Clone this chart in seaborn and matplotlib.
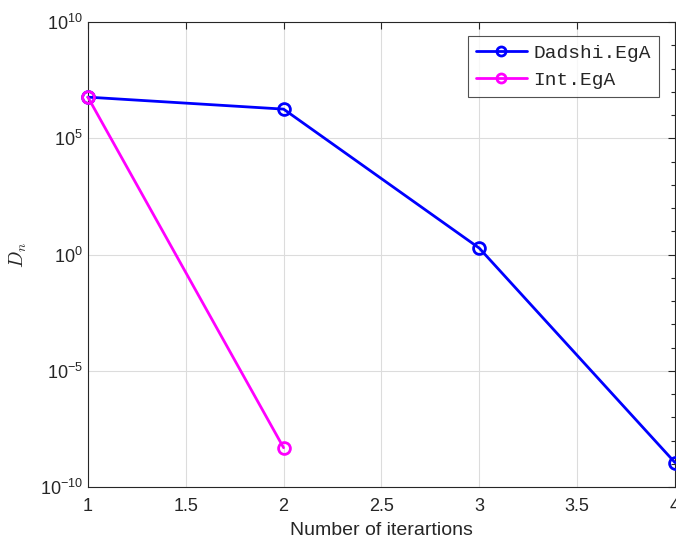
import numpy as np
import pandas as pd
import matplotlib
matplotlib.use("Agg")
import matplotlib.pyplot as plt
import matplotlib.ticker as mticker
import seaborn as sns

# Data
iter_dadshi = [1, 2, 3, 4]
vals_dadshi = [5.9e6, 1.8e6, 1.9, 1.15e-9]
iter_int = [1, 2]
vals_int = [5.9e6, 5.0e-9]
series_names = ["Dadshi.EgA", "Int.EgA"]
series_colors = ["#0000ff", "#ff00ff"]
xticks = [1, 1.5, 2, 2.5, 3, 3.5, 4]
xlabel = "Number of iterartions"
ylabel = r"$D_n$"

df = pd.DataFrame({
    "x": iter_dadshi + iter_int,
    "y": vals_dadshi + vals_int,
    "series": [series_names[0]] * len(iter_dadshi) + [series_names[1]] * len(iter_int),
})

sns.set_style("white")
plt.rcParams["font.family"] = ["Liberation Sans", "DejaVu Sans"]
plt.rcParams["mathtext.fontset"] = "cm"

fig = plt.figure(figsize=(6.76, 5.45), dpi=100)
ax = fig.add_axes([0.130, 0.106, 0.8685, 0.8536])

sns.lineplot(data=df, x="x", y="y", hue="series", palette=series_colors,
             hue_order=series_names, marker="o", markersize=8.5,
             markerfacecolor="none", markeredgewidth=2.0, linewidth=2.0,
             ax=ax, legend=False, clip_on=False, zorder=5)
for line, c in zip(ax.get_lines(), series_colors):
    line.set_markeredgecolor(c)
    line.set_markerfacecolor("none")

ax.set_yscale("log")
ax.set_ylim(1e-10, 1e10)
ax.set_xlim(1, 4)
ax.set_xticks(xticks)
ax.set_xticklabels([("%g" % t) for t in xticks])
ax.yaxis.set_major_locator(mticker.FixedLocator([1e-10, 1e-5, 1e0, 1e5, 1e10]))
ax.yaxis.set_major_formatter(mticker.FuncFormatter(lambda v, p: r"$\mathregular{10^{%d}}$" % round(np.log10(v))))
ax.yaxis.set_minor_locator(mticker.FixedLocator([10.0 ** k for k in range(-10, 11)]))
ax.yaxis.set_minor_formatter(mticker.NullFormatter())

ax.grid(True, which="major", color="#dcdcdc", linewidth=0.8)
ax.set_axisbelow(True)
ax.tick_params(axis="both", which="both", direction="in", top=True, right=True,
               colors="#262626", labelsize=13, length=5, width=0.8)
ax.tick_params(axis="y", which="minor", length=3)
ax.tick_params(axis="x", pad=8)
for s in ax.spines.values():
    s.set_color("#262626")
    s.set_linewidth(0.8)

ax.set_xlabel(xlabel, fontsize=14, color="#262626", labelpad=5)
ax.set_ylabel(ylabel, fontsize=14, color="#262626", labelpad=8)

from matplotlib.lines import Line2D
handles = [Line2D([0], [0], color=c, lw=2.0, marker="o", markersize=6.5,
                  markerfacecolor="none", markeredgewidth=2.0) for c in series_colors]
leg = ax.legend(handles, series_names, loc="upper right", bbox_to_anchor=(0.973, 0.970),
                prop={"family": "Liberation Mono", "size": 14}, frameon=True,
                fancybox=False, edgecolor="#262626", handlelength=2.6,
                borderpad=0.42, borderaxespad=0, labelspacing=0.5, handletextpad=0.35)
leg.get_frame().set_linewidth(0.8)

fig.savefig("out.png", dpi=100)
